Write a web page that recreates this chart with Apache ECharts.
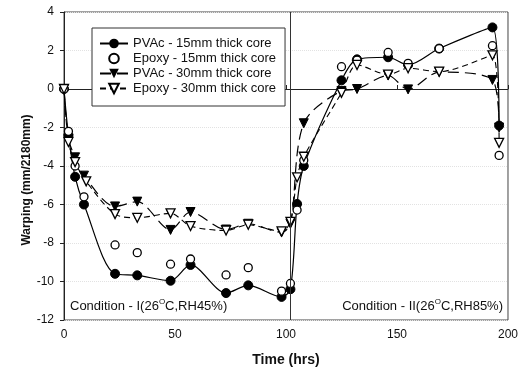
<!DOCTYPE html>
<html>
<head>
<meta charset="utf-8">
<script src="https://cdn.jsdelivr.net/npm/echarts@6/dist/echarts.min.js"></script>
<style>html,body{margin:0;padding:0;background:#fff;}#c{width:521px;height:372px;}</style>
</head>
<body>
<div id="c"></div>
<script>
var seriesNames = ['PVAc - 15mm thick core', 'Epoxy - 15mm thick core', 'PVAc - 30mm thick core', 'Epoxy - 30mm thick core'];

var pvac15Time = [0, 2, 5, 9, 23, 33, 48, 57, 73, 83, 98, 102, 105, 108, 125, 132, 146, 155, 169, 193, 196];
var pvac15Warp = [0, -2.4, -4.56, -6.0, -9.6, -9.68, -9.96, -9.14, -10.6, -10.2, -10.8, -10.4, -5.97, -4.0, 0.45, 1.54, 1.65, 1.25, 2.1, 3.2, -1.9];

var epoxy15Time = [0, 2, 5, 9, 23, 33, 48, 57, 73, 83, 98, 102, 105, 108, 125, 132, 146, 155, 169, 193, 196];
var epoxy15Warp = [0, -2.2, -4.0, -5.6, -8.1, -8.5, -9.1, -8.83, -9.66, -9.28, -10.5, -10.1, -6.29, -3.7, 1.16, 1.5, 1.9, 1.33, 2.1, 2.25, -3.45];

var pvac30Time = [0, 2, 5, 9, 23, 33, 48, 57, 73, 83, 98, 102, 108, 125, 132, 146, 155, 169, 193, 196];
var pvac30Warp = [0, -2.6, -3.55, -4.5, -6.1, -5.85, -7.32, -6.39, -7.3, -7.0, -7.45, -7.0, -1.78, -0.1, 0.0, 0.7, -0.02, 0.88, 0.47, -2.0];

var epoxy30Time = [0, 2, 5, 10, 23, 33, 48, 57, 73, 83, 98, 102, 105, 108, 125, 132, 146, 155, 169, 193, 196];
var epoxy30Warp = [0, -2.75, -3.8, -4.8, -6.5, -6.69, -6.46, -7.12, -7.35, -7.05, -7.4, -6.9, -4.59, -3.52, -0.2, 1.25, 0.75, 1.08, 0.9, 1.75, -2.8];

var dividerTime = 102;
var conditionLabels = ['Condition - I(26', 'C,RH45%)', 'Condition - II(26', 'C,RH85%)'];

function pairs(xs, ys) { return xs.map(function (x, i) { return [x, ys[i]]; }); }

var FONT = 'Liberation Sans';
var richCond = {
  n: { fontFamily: FONT, fontSize: 13, fill: '#111', lineHeight: 15, verticalAlign: 'bottom' },
  s: { fontFamily: FONT, fontSize: 8, fill: '#111', lineHeight: 15, verticalAlign: 'top' }
};
var chart = echarts.init(document.getElementById('c'), null, { renderer: 'canvas' });
chart.setOption({
  animation: false,
  backgroundColor: '#fff',
  grid: { left: 64, right: 10, top: 12, bottom: 52, show: true, borderColor: '#444', borderWidth: 1 },
  xAxis: {
    type: 'value', min: 0, max: 200, interval: 50,
    name: 'Time (hrs)', nameLocation: 'middle', nameGap: 33,
    nameTextStyle: { fontFamily: FONT, fontWeight: 'bold', fontSize: 14, color: '#111' },
    axisLine: { show: true, lineStyle: { color: '#222', width: 1 } },
    axisTick: { show: true, inside: true, length: 4, lineStyle: { color: '#222' } },
    axisLabel: { fontFamily: FONT, fontSize: 12, color: '#111', margin: 9 },
    splitLine: { show: false }
  },
  yAxis: {
    type: 'value', min: -12, max: 4, interval: 2,
    axisLine: { show: true, lineStyle: { color: '#222', width: 1 } },
    axisTick: { show: true, inside: false, length: 4, lineStyle: { color: '#222' } },
    axisLabel: { fontFamily: FONT, fontSize: 12, color: '#111', margin: 10 },
    splitLine: { show: true, lineStyle: { color: '#e2e2e2', type: 'dotted', width: 1 } }
  },
  legend: {
    orient: 'vertical', left: 92, top: 28,
    padding: [9, 9, 11, 7], itemGap: 2, itemWidth: 28, itemHeight: 12,
    borderColor: '#333', borderWidth: 1, backgroundColor: '#fff',
    textStyle: { fontFamily: FONT, fontSize: 13, color: '#111' },
    data: seriesNames
  },
  series: [
    {
      name: seriesNames[0], type: 'line', data: pairs(pvac15Time, pvac15Warp),
      smooth: 0.3, symbol: 'circle', symbolSize: 9, z: 3,
      lineStyle: { color: '#000', width: 1.2 },
      itemStyle: { color: '#000', borderColor: '#000' },
      markLine: {
        silent: true, symbol: 'none', label: { show: false },
        lineStyle: { color: '#333', type: 'solid', width: 1 },
        data: [{ xAxis: dividerTime }]
      }
    },
    {
      name: seriesNames[1], type: 'line', data: pairs(epoxy15Time, epoxy15Warp),
      symbol: 'circle', symbolSize: 8, z: 4,
      lineStyle: { width: 0, opacity: 0 },
      itemStyle: { color: '#fff', borderColor: '#000', borderWidth: 1.3 }
    },
    {
      name: seriesNames[2], type: 'line', data: pairs(pvac30Time, pvac30Warp),
      smooth: 0.3, symbol: 'triangle', symbolRotate: 180, symbolSize: 9, z: 3,
      lineStyle: { color: '#000', width: 1.2, type: [11, 6] },
      itemStyle: { color: '#000', borderColor: '#000' }
    },
    {
      name: seriesNames[3], type: 'line', data: pairs(epoxy30Time, epoxy30Warp),
      smooth: 0.3, symbol: 'triangle', symbolRotate: 180, symbolSize: 9, z: 4,
      lineStyle: { color: '#000', width: 1.1, type: [6, 4] },
      itemStyle: { color: '#fff', borderColor: '#000', borderWidth: 1.3 }
    }
  ],
  graphic: [
    {
      type: 'text', x: 26, y: 180, rotation: Math.PI / 2, scaleX: 0.92,
      style: { text: 'Warping (mm/2180mm)', align: 'center', verticalAlign: 'middle',
        font: 'bold 13px "Liberation Sans"', fill: '#111' }
    },
    {
      type: 'text', left: 70, top: 298,
      style: { text: '{n|' + conditionLabels[0] + '}{s|O}{n|' + conditionLabels[1] + '}', rich: richCond }
    },
    {
      type: 'text', right: 18, top: 298,
      style: { text: '{n|' + conditionLabels[2] + '}{s|O}{n|' + conditionLabels[3] + '}', rich: richCond }
    }
  ]
});
</script>
</body>
</html>
